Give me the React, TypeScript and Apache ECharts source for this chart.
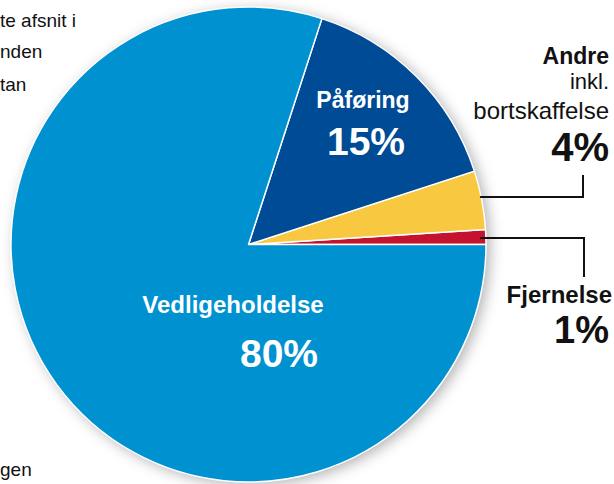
import React, { useEffect, useRef } from "react";
import * as echarts from "echarts";

const categories = ["Fjernelse", "Andre", "Påføring", "Vedligeholdelse"];
const values = [1, 4, 15, 80];
const colors = ["#c4122f", "#f8c940", "#004b96", "#0091d0"];
const andreSubLines = ["inkl.", "bortskaffelse"];
const fragments = ["te afsnit i", "nden", "tan", "gen"];

const FONT = "'Liberation Sans', Arial, Helvetica, sans-serif";

export default function App() {
  const ref = useRef<HTMLDivElement>(null);
  useEffect(() => {
    if (!ref.current) return;
    const chart = echarts.init(ref.current, undefined, { renderer: "svg" });
    const txt = (
      text: string,
      x: number,
      y: number,
      size: number,
      weight: string,
      color: string,
      align: string
    ) => ({
      type: "text",
      z: 100,
      style: {
        text,
        x,
        y,
        fill: color,
        font: `${weight} ${size}px ${FONT}`,
        textAlign: align,
        textVerticalAlign: "middle",
        verticalAlign: "middle",
      },
    });
    const pct = (i: number) => `${values[i]}%`;
    chart.setOption({
      animation: false,
      backgroundColor: "#ffffff",
      series: [
        {
          type: "pie",
          silent: true,
          z: 1,
          center: [248.5, 244.5],
          radius: 237.5,
          label: { show: false },
          labelLine: { show: false },
          data: [
            {
              value: 1,
              itemStyle: {
                color: "#0091d0",
                shadowBlur: 14,
                shadowOffsetX: 4,
                shadowOffsetY: 3,
                shadowColor: "rgba(0,0,0,0.3)",
              },
            },
          ],
        },
        {
          type: "pie",
          z: 2,
          center: [248.5, 244.5],
          radius: 237.5,
          startAngle: 0,
          clockwise: false,
          label: { show: false },
          labelLine: { show: false },
          itemStyle: { borderColor: "#ffffff", borderWidth: 1.5 },
          data: categories.map((c, i) => ({
            name: c,
            value: values[i],
            itemStyle: { color: colors[i] },
          })),
        },
      ],
      graphic: [
        txt(categories[2], 363, 100, 23, "bold", "#ffffff", "center"),
        txt(pct(2), 366, 141, 39, "bold", "#ffffff", "center"),
        txt(categories[3], 233, 304, 24, "bold", "#ffffff", "center"),
        txt(pct(3), 279, 353, 39, "bold", "#ffffff", "center"),
        txt(categories[1], 609, 56, 23, "bold", "#111111", "right"),
        txt(andreSubLines[0], 609, 81, 22, "normal", "#111111", "right"),
        txt(andreSubLines[1], 609, 110, 24, "normal", "#111111", "right"),
        txt(pct(1), 609, 147, 40, "bold", "#111111", "right"),
        txt(categories[0], 612, 294, 24, "bold", "#111111", "right"),
        txt(pct(0), 609, 330, 38, "bold", "#111111", "right"),
        txt(fragments[0], 0, 20, 19, "normal", "#111111", "left"),
        txt(fragments[1], 0, 51, 19, "normal", "#111111", "left"),
        txt(fragments[2], 0, 84, 19, "normal", "#111111", "left"),
        txt(fragments[3], 0, 469, 19, "normal", "#111111", "left"),
        {
          type: "polyline",
          z: 100,
          shape: { points: [[480, 197], [583, 197], [583, 175]] },
          style: { stroke: "#111111", lineWidth: 2, fill: "none" },
        },
        {
          type: "polyline",
          z: 100,
          shape: { points: [[480, 238], [584, 238], [584, 277]] },
          style: { stroke: "#111111", lineWidth: 2, fill: "none" },
        },
      ],
    });
    return () => chart.dispose();
  }, []);
  return (
    <div
      ref={ref}
      style={{ position: "absolute", left: 0, top: 0, width: 614, height: 484 }}
    />
  );
}
